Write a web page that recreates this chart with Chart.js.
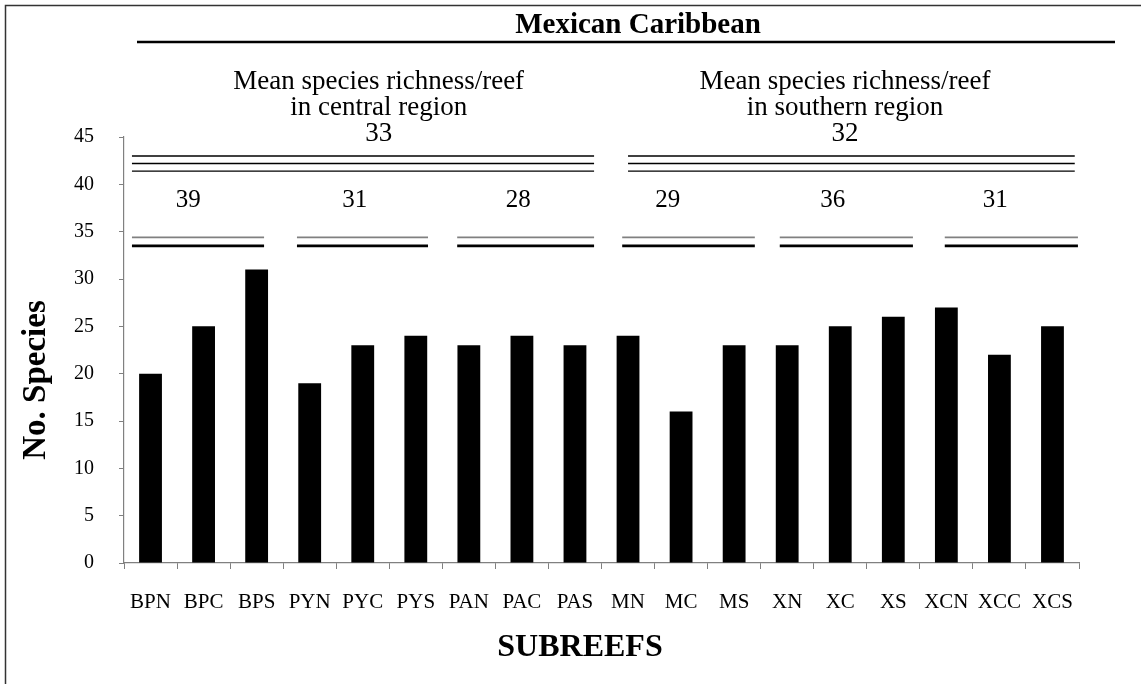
<!DOCTYPE html>
<html>
<head>
<meta charset="utf-8">
<script src="https://cdn.jsdelivr.net/npm/chart.js@4.4.1/dist/chart.umd.min.js"></script>
<style>
html,body{margin:0;padding:0;background:#ffffff;}
#wrap{width:1141px;height:684px;position:relative;overflow:hidden;}
canvas{display:block;}
</style>
</head>
<body>
<div id="wrap"><canvas id="c" width="1141" height="684"></canvas></div>
<script>
// ---------------- data ----------------
const categories = ['BPN','BPC','BPS','PYN','PYC','PYS','PAN','PAC','PAS','MN','MC','MS','XN','XC','XS','XCN','XCC','XCS'];
const species = [20,25,31,19,23,24,23,24,23,24,16,23,23,25,26,27,22,25];
const yTickValues = [0,5,10,15,20,25,30,35,40,45];
const groupMeans = [39,31,28,29,36,31];
const groupSpans = [[-0.35,2.14],[2.76,5.23],[5.78,8.36],[8.89,11.39],[11.86,14.37],[14.97,17.48]];
const groupLabelAt = [0.71,3.85,6.93,9.75,12.86,15.92];
const regionNames = ['central','southern'];
const regionMeans = [33,32];
const regionSpans = [[-0.35,8.36],[9.0,17.42]];
const regionLabelAt = [4.3,13.09];
const titleText = 'Mexican Caribbean';
const xTitle = 'SUBREEFS';
const yTitle = 'No. Species';

// ---------------- style ----------------
const SERIF = '"Liberation Serif","Times New Roman",serif';
const GRAY = '#808080';
const lineLevels = {groupGray: 34.4, groupBlack: 33.5, triple: [43.0, 42.2, 41.4]};

const lineDatasets = [];
groupSpans.forEach(s => {
  lineDatasets.push({type:'line', xAxisID:'x2', yAxisID:'y', data:[{x:s[0],y:lineLevels.groupGray},{x:s[1],y:lineLevels.groupGray}], borderColor:GRAY, borderWidth:1.6, pointRadius:0, clip:false});
  lineDatasets.push({type:'line', xAxisID:'x2', yAxisID:'y', data:[{x:s[0],y:lineLevels.groupBlack},{x:s[1],y:lineLevels.groupBlack}], borderColor:'#000', borderWidth:2.6, pointRadius:0, clip:false});
});
regionSpans.forEach(s => {
  lineLevels.triple.forEach(v => {
    lineDatasets.push({type:'line', xAxisID:'x2', yAxisID:'y', data:[{x:s[0],y:v},{x:s[1],y:v}], borderColor:'#000', borderWidth:1.4, pointRadius:0, clip:false});
  });
});

const decor = {
  id: 'decor',
  afterDraw(chart) {
    const ctx = chart.ctx;
    const xs = chart.scales.x2, ys = chart.scales.y;
    ctx.save();
    // outer frame (top & left visible)
    ctx.strokeStyle = '#333';
    ctx.lineWidth = 1.5;
    ctx.beginPath();
    ctx.moveTo(5.5, 690); ctx.lineTo(5.5, 5.5); ctx.lineTo(1150, 5.5);
    ctx.stroke();
    // title
    ctx.fillStyle = '#000';
    ctx.textAlign = 'center';
    ctx.textBaseline = 'middle';
    ctx.font = 'bold 29px ' + SERIF;
    ctx.fillText(titleText, 638, 26);
    ctx.strokeStyle = '#000';
    ctx.lineWidth = 2.5;
    ctx.beginPath(); ctx.moveTo(137, 42); ctx.lineTo(1115, 42); ctx.stroke();
    // region annotations
    ctx.font = '27px ' + SERIF;
    regionNames.forEach((r, i) => {
      const cx = xs.getPixelForValue(regionLabelAt[i]);
      ctx.fillText('Mean species richness/reef', cx, ys.getPixelForValue(50.85));
      ctx.fillText('in ' + r + ' region', cx, ys.getPixelForValue(48.1));
      ctx.save();
      if (i === 0) { ctx.beginPath(); ctx.rect(0, 0, chart.width, ys.getPixelForValue(44.45)); ctx.clip(); }
      ctx.fillText(String(regionMeans[i]), cx, ys.getPixelForValue(45.35));
      ctx.restore();
    });
    // group means
    ctx.font = '25px ' + SERIF;
    groupMeans.forEach((m, i) => {
      ctx.fillText(String(m), xs.getPixelForValue(groupLabelAt[i]), ys.getPixelForValue(38.3));
    });
    // axis titles
    ctx.font = 'bold 32px ' + SERIF;
    ctx.fillText(xTitle, 580, 648);
    ctx.translate(36, 380);
    ctx.rotate(-Math.PI/2);
    ctx.font = 'bold 33px ' + SERIF;
    ctx.fillText(yTitle, 0, 0);
    ctx.restore();
  }
};

new Chart(document.getElementById('c'), {
  type: 'bar',
  data: {
    labels: categories,
    datasets: [
      {type:'bar', xAxisID:'x', yAxisID:'y', data: species, backgroundColor:'#000', borderColor:'#000', borderWidth:0, grouped:false, categoryPercentage:1.0, barPercentage:0.43},
      ...lineDatasets
    ]
  },
  options: {
    responsive:false,
    animation:false,
    events:[],
    layout:{padding:{left:0, right:62, top:137, bottom:0}},
    plugins:{legend:{display:false}, tooltip:{enabled:false}, title:{display:false}},
    scales:{
      x:{type:'category', offset:true,
         grid:{offset:true, drawOnChartArea:false, drawTicks:true, tickLength:6, color:GRAY},
         border:{display:true, color:GRAY, width:1.2},
         ticks:{color:'#000', font:{family:SERIF, size:21}, padding:21, maxRotation:0, autoSkip:false},
         afterFit(s){ s.height = 121; }
      },
      x2:{type:'linear', min:-0.5, max:17.5, offset:false, grid:{offset:false}, display:false},
      y:{type:'linear', min:0, max:45,
         afterBuildTicks(s){ s.ticks = yTickValues.map(v => ({value:v})); },
         grid:{drawOnChartArea:false, drawTicks:true, tickLength:5, color:GRAY},
         border:{display:true, color:GRAY, width:1.2},
         ticks:{color:'#000', font:{family:SERIF, size:20}, padding:25},
         afterFit(s){ s.width = 124; }
      }
    }
  },
  plugins:[decor]
});
</script>
</body>
</html>
